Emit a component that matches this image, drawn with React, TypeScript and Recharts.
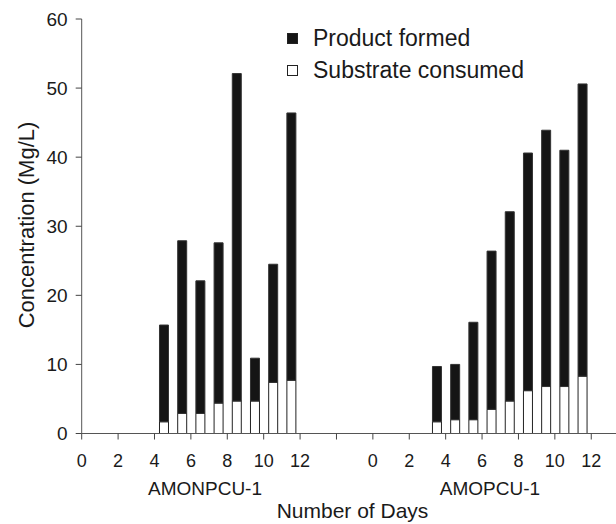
import { BarChart, Bar, XAxis, YAxis } from 'recharts'

// day index of each bar (bars sit in the middle of the day interval)
const amonpcuDays = [4, 5, 6, 7, 8, 9, 10, 11]
const amonpcuTotal = [15.7, 27.9, 22.1, 27.6, 52.1, 10.9, 24.5, 46.4]
const amonpcuSubstrate = [1.7, 2.9, 2.9, 4.4, 4.7, 4.7, 7.4, 7.7]

const amopcuDays = [3, 4, 5, 6, 7, 8, 9, 10, 11]
const amopcuTotal = [9.7, 10.0, 16.1, 26.4, 32.1, 40.6, 43.9, 41.0, 50.6]
const amopcuSubstrate = [1.7, 2.0, 2.0, 3.5, 4.7, 6.2, 6.8, 6.8, 8.3]

const groupOffset = 16
const xTicks = [0, 2, 4, 6, 8, 10, 12, 14, 16, 18, 20, 22, 24, 26, 28]
const yTicks = [0, 10, 20, 30, 40, 50, 60]

const data = [
  ...amonpcuDays.map((d, i) => ({
    x: d + 0.5,
    substrate: amonpcuSubstrate[i],
    product: +(amonpcuTotal[i] - amonpcuSubstrate[i]).toFixed(2),
  })),
  ...amopcuDays.map((d, i) => ({
    x: d + 0.5 + groupOffset,
    substrate: amopcuSubstrate[i],
    product: +(amopcuTotal[i] - amopcuSubstrate[i]).toFixed(2),
  })),
]

const FONT = "'Liberation Sans', Arial, Helvetica, sans-serif"

const fmtTick = (v: number) => (v <= 12 ? String(v) : v === 14 ? '' : String(v - groupOffset))

function LegendBox() {
  const row = (fill: string, label: string) => (
    <div style={{ display: 'flex', alignItems: 'center', height: 32 }}>
      <span
        style={{
          display: 'inline-block',
          width: 9,
          height: 9,
          background: fill,
          border: '1px solid #222',
          marginRight: 15,
        }}
      />
      <span style={{ fontSize: 23, color: '#1a1a1a', fontFamily: FONT }}>{label}</span>
    </div>
  )
  return (
    <div style={{ position: 'absolute', left: 287, top: 22 }}>
      {row('#151515', 'Product formed')}
      {row('#ffffff', 'Substrate consumed')}
    </div>
  )
}

export default function App() {
  return (
    <div style={{ position: 'absolute', left: 0, top: 0, width: 616, height: 524, background: '#fff' }}>
      <BarChart
        width={616}
        height={524}
        data={data}
        margin={{ top: 19, right: 0, left: 0, bottom: 50.5 }}
        style={{ fontFamily: FONT }}
      >
        <XAxis
          dataKey="x"
          type="number"
          domain={[0, 29.36]}
          ticks={xTicks}
          tickFormatter={fmtTick}
          allowDataOverflow
          height={40}
          tickSize={6}
          tickMargin={15}
          stroke="#555"
          tick={{ fontSize: 18, fill: '#1a1a1a' }}
          tickLine={{ stroke: '#444' }}
        />
        <YAxis
          domain={[0, 60]}
          ticks={yTicks}
          width={81.7}
          tickSize={6}
          tickMargin={8}
          stroke="#555"
          tick={{ fontSize: 19, fill: '#1a1a1a' }}
          tickLine={{ stroke: '#444' }}
        />
        <Bar dataKey="substrate" stackId="a" fill="#ffffff" stroke="#222" strokeWidth={1} barSize={9} isAnimationActive={false} />
        <Bar dataKey="product" stackId="a" fill="#151515" stroke="#333" strokeWidth={1} barSize={9} isAnimationActive={false} />
      </BarChart>
      <LegendBox />
      <svg
        width={616}
        height={524}
        style={{ position: 'absolute', left: 0, top: 0, pointerEvents: 'none', fontFamily: FONT }}
      >
        <text x={205} y={495} textAnchor="middle" fontSize={19} fill="#1a1a1a">AMONPCU-1</text>
        <text x={490} y={495} textAnchor="middle" fontSize={19} fill="#1a1a1a">AMOPCU-1</text>
        <text x={352.5} y={518} textAnchor="middle" fontSize={21} fill="#1a1a1a">Number of Days</text>
        <text
          x={0}
          y={0}
          transform="translate(34,225) rotate(-90)"
          textAnchor="middle"
          fontSize={22}
          fill="#1a1a1a"
        >
          Concentration (Mg/L)
        </text>
      </svg>
    </div>
  )
}
